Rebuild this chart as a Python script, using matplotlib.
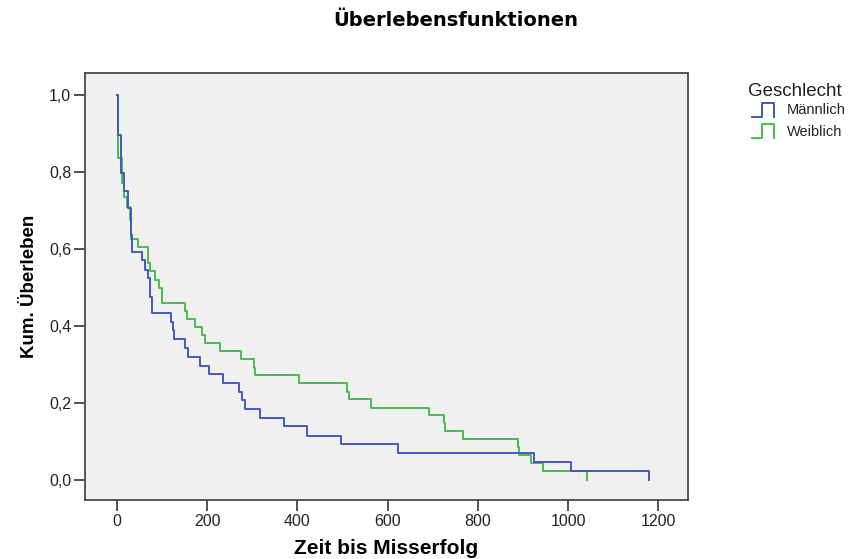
import matplotlib
matplotlib.use("Agg")
import matplotlib.pyplot as plt
from matplotlib.lines import Line2D
from matplotlib.ticker import FuncFormatter

plt.rcParams['font.family'] = ['Liberation Sans', 'DejaVu Sans']

# Männlich (male) Kaplan-Meier steps: event times and survival after each event
male_time = [0, 1, 9, 16, 25, 31, 34, 55, 61, 69, 73, 78, 119, 123, 126, 151, 157,
             183, 203, 236, 270, 276, 284, 318, 370, 422, 496, 622, 925, 1006, 1180]
male_surv = [1.0, 0.896, 0.797, 0.751, 0.706, 0.636, 0.593, 0.571, 0.545, 0.524,
             0.476, 0.433, 0.411, 0.390, 0.366, 0.342, 0.320, 0.297, 0.275, 0.251,
             0.229, 0.208, 0.184, 0.160, 0.139, 0.115, 0.093, 0.069, 0.046, 0.024, 0.0]

# Weiblich (female)
female_time = [0, 1, 10, 12, 16, 21, 29, 32, 47, 69, 73, 84, 92, 100, 151, 155, 173,
               188, 195, 229, 274, 304, 306, 404, 509, 514, 563, 692, 725, 727, 768,
               890, 892, 918, 945, 1042]
female_surv = [1.0, 0.836, 0.797, 0.771, 0.735, 0.709, 0.675, 0.626, 0.605, 0.564,
               0.543, 0.519, 0.499, 0.460, 0.438, 0.417, 0.397, 0.377, 0.357, 0.336,
               0.313, 0.292, 0.272, 0.253, 0.229, 0.210, 0.188, 0.169, 0.149, 0.128,
               0.106, 0.085, 0.065, 0.045, 0.024, 0.0]

x_ticks = [0, 200, 400, 600, 800, 1000, 1200]
y_ticks = [0.0, 0.2, 0.4, 0.6, 0.8, 1.0]
groups = ['Männlich', 'Weiblich']
colors = ['#4558BE', '#45BE4C']

fig = plt.figure(figsize=(8.52, 5.59), dpi=100)
ax = fig.add_axes([0.0998, 0.1055, 0.8075 - 0.0998, 0.8694 - 0.1055])
ax.set_facecolor('#F0F0F0')

ax.step(female_time, female_surv, where='post', color=colors[1], lw=1.4)
ax.step(male_time, male_surv, where='post', color=colors[0], lw=1.4)

ax.set_xlim(-71, 1266)
ax.set_ylim(-0.052, 1.057)
ax.set_xticks(x_ticks)
ax.set_yticks(y_ticks)
ax.yaxis.set_major_formatter(FuncFormatter(lambda v, p: f"{v:.1f}".replace('.', ',')))
ax.tick_params(direction='out', length=8, width=1.2, color='#333333',
               labelsize=11.5, labelcolor='#222222', pad=2)
for s in ax.spines.values():
    s.set_color('#4a4a4a')
    s.set_linewidth(1.3)

ax.set_xlabel('Zeit bis Misserfolg', fontsize=15, fontweight='bold', labelpad=7)
ax.set_ylabel('Kum. Überleben', fontsize=13.5, fontweight='bold', labelpad=8)

fig.text(456 / 852, 1 - 20 / 559, 'Überlebensfunktionen', ha='center', va='center',
         fontsize=14, fontweight='bold', family=['DejaVu Sans'])

# legend
W, H = 852, 559
fig.text(748 / W, 1 - 91 / H, 'Geschlecht', ha='left', va='center', fontsize=13.5,
         color='#222222')
for i, (g, c) in enumerate(zip(groups, colors)):
    yb = 117 + i * 21
    yt = 103 + i * 21
    xs = [752 / W, 762 / W, 762 / W, 774 / W, 774 / W]
    ys = [1 - yb / H, 1 - yb / H, 1 - yt / H, 1 - yt / H, 1 - yb / H]
    fig.add_artist(Line2D(xs, ys, color=c, lw=1.4, transform=fig.transFigure))
    fig.text(787 / W, 1 - (110.5 + i * 21) / H, g, ha='left', va='center', fontsize=10.5,
             color='#222222')

fig.savefig('out.png', dpi=100)
